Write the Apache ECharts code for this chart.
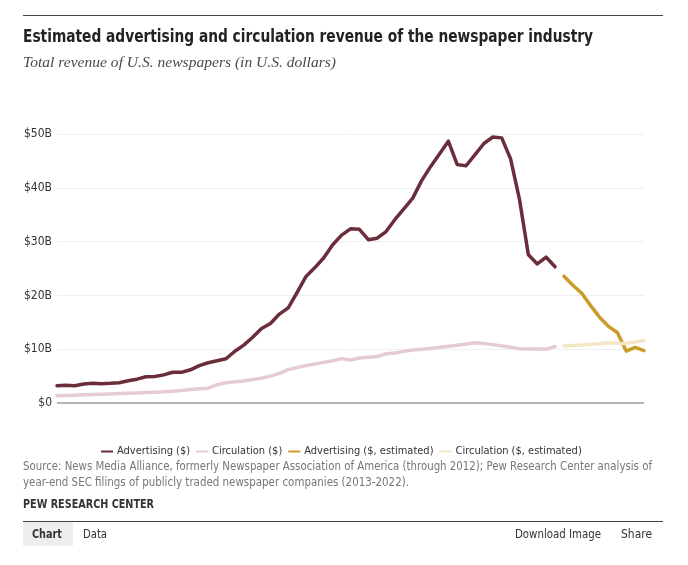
<!DOCTYPE html>
<html>
<head>
<meta charset="utf-8">
<script src="https://cdn.jsdelivr.net/npm/echarts@6/dist/echarts.min.js"></script>
<style>
  html, body { margin: 0; padding: 0; background: #fff; }
  body { width: 688px; height: 565px; position: relative; overflow: hidden; font-family: "DejaVu Sans Condensed", "Liberation Sans", Roboto, sans-serif; }
  #chart { position: absolute; left: 0; top: 0; width: 688px; height: 565px; }
  .abs { position: absolute; white-space: nowrap; transform-origin: 0 50%; }
  #topline { left: 23px; top: 15px; width: 640px; height: 1px; background: #444; }
  #title { left: 23px; top: 25px; font-size: 18px; font-weight: bold; color: #222; }
  #subtitle { left: 23px; top: 54px; font-family: "Liberation Serif", "DejaVu Serif", serif; font-style: italic; font-size: 15px; color: #4a4a4a; }
  #src1 { left: 23px; top: 458px; font-size: 12px; line-height: 16px; color: #777; }
  #src2 { left: 23px; top: 474px; font-size: 12px; line-height: 16px; color: #777; }
  #pew { left: 23px; top: 497px; font-size: 12px; font-weight: bold; color: #333; }
  #botline { left: 23px; top: 521px; width: 640px; height: 1px; background: #444; }
  #tabchart { left: 23px; top: 522px; width: 50px; height: 24px; background: #eeeeee; }
  #tabchartt { left: 32px; top: 522px; font-size: 12px; font-weight: bold; color: #333; line-height: 24px; }
  #tabdata { left: 83px; top: 522px; font-size: 12px; line-height: 24px; color: #333; }
  #tabdl { left: 515px; top: 522px; font-size: 12px; line-height: 24px; color: #333; }
  #tabshare { left: 621px; top: 522px; font-size: 12px; line-height: 24px; color: #333; }
</style>
</head>
<body>
<div id="chart"></div>
<div class="abs" id="topline"></div>
<div class="abs" id="title" data-w="570">Estimated advertising and circulation revenue of the newspaper industry</div>
<div class="abs" id="subtitle" data-w="313">Total revenue of U.S. newspapers (in U.S. dollars)</div>
<div class="abs" id="src1" data-w="629">Source: News Media Alliance, formerly Newspaper Association of America (through 2012); Pew Research Center analysis of</div>
<div class="abs" id="src2" data-w="386">year-end SEC filings of publicly traded newspaper companies (2013-2022).</div>
<div class="abs" id="pew" data-w="131">PEW RESEARCH CENTER</div>
<div class="abs" id="botline"></div>
<div class="abs" id="tabchart"></div>
<div class="abs" id="tabchartt" data-w="30">Chart</div>
<div class="abs" id="tabdata" data-w="24">Data</div>
<div class="abs" id="tabdl" data-w="86">Download Image</div>
<div class="abs" id="tabshare" data-w="31">Share</div>
<script>
// Years (actual: 1956-2012, estimated: 2013-2022)
var actualYears = [1956,1957,1958,1959,1960,1961,1962,1963,1964,1965,1966,1967,1968,1969,1970,
  1971,1972,1973,1974,1975,1976,1977,1978,1979,1980,1981,1982,1983,1984,1985,1986,1987,1988,1989,1990,
  1991,1992,1993,1994,1995,1996,1997,1998,1999,2000,2001,2002,2003,2004,2005,2006,2007,2008,2009,2010,2011,2012];
var estimatedYears = [2013,2014,2015,2016,2017,2018,2019,2020,2021,2022];

// Values in billions of U.S. dollars
var advertising = [3.22,3.28,3.19,3.53,3.68,3.60,3.66,3.78,4.12,4.43,4.87,4.91,5.23,5.71,5.70,
  6.17,6.94,7.48,7.84,8.23,9.62,10.75,12.21,13.86,14.79,16.53,17.69,20.58,23.52,25.17,26.99,29.41,31.20,32.37,32.28,
  30.35,30.64,31.87,34.11,36.09,38.08,41.33,43.93,46.29,48.67,44.31,44.10,46.16,48.24,49.44,49.28,45.38,37.85,27.56,25.84,27.10,25.32];
var circulation = [1.35,1.40,1.46,1.52,1.57,1.62,1.68,1.75,1.82,1.88,1.95,2.02,2.08,2.18,2.33,
  2.52,2.67,2.75,3.40,3.75,3.95,4.10,4.35,4.60,5.00,5.50,6.20,6.60,6.95,7.25,7.55,7.85,8.25,8.00,8.35,
  8.50,8.65,9.15,9.30,9.60,9.85,10.00,10.15,10.35,10.55,10.75,10.95,11.20,11.05,10.85,10.60,10.35,10.10,10.05,10.05,10.00,10.50];
var advertisingEst = [23.57,21.90,20.40,18.10,15.95,14.25,13.10,9.65,10.35,9.75];
var circulationEst = [10.60,10.70,10.80,10.90,11.00,11.20,11.10,11.05,11.35,11.60];

var yTicks = [0,10,20,30,40,50];
var yTickLabels = ['$0','$10B','$20B','$30B','$40B','$50B'];

// Fit HTML texts horizontally to the reference widths
Array.prototype.forEach.call(document.querySelectorAll('[data-w]'), function (el) {
  var w = el.getBoundingClientRect().width;
  var target = parseFloat(el.getAttribute('data-w'));
  if (w > 0) el.style.transform = 'scaleX(' + (target / w) + ')';
});

function pairs(xs, ys) { return xs.map(function (x, i) { return [x, ys[i]]; }); }

var chart = echarts.init(document.getElementById('chart'), null, { renderer: 'canvas' });
var lw = 3.5;
var uiFont = '"DejaVu Sans Condensed", "Liberation Sans", sans-serif';
function lineSeries(name, xs, ys, color) {
  return {
    name: name, type: 'line', data: pairs(xs, ys), showSymbol: false, symbol: 'none',
    lineStyle: { color: color, width: lw, cap: 'round', join: 'round' },
    itemStyle: { color: color }, emphasis: { disabled: true }, animation: false
  };
}
chart.setOption({
  animation: false,
  grid: { left: 57, right: 44, top: 134, bottom: 162 },
  legend: {
    left: 96, top: 441, itemWidth: 12, itemHeight: 2, itemGap: 6, icon: 'rect',
    textStyle: { fontFamily: uiFont, fontSize: 11, color: '#333', padding: [0, 0, 0, -1] },
    data: ['Advertising ($)', 'Circulation ($)', 'Advertising ($, estimated)', 'Circulation ($, estimated)'],
    selectedMode: false
  },
  xAxis: {
    type: 'value', min: 1956, max: 2022, show: true,
    axisLine: { show: false }, axisTick: { show: false }, axisLabel: { show: false }, splitLine: { show: false }
  },
  yAxis: {
    type: 'value', min: 0, max: 50, interval: 10,
    axisLine: { show: false }, axisTick: { show: false },
    axisLabel: {
      margin: 5, fontSize: 12, color: '#333', fontFamily: uiFont,
      formatter: function (v) { var i = yTicks.indexOf(v); return i >= 0 ? yTickLabels[i] : ''; }
    },
    splitLine: { lineStyle: { color: '#f0f0f0', width: 1 } }
  },
  series: [
    lineSeries('Advertising ($)', actualYears, advertising, '#6b2d3a'),
    lineSeries('Circulation ($)', actualYears, circulation, '#e6ccd2'),
    lineSeries('Advertising ($, estimated)', estimatedYears, advertisingEst, '#cc9c2a'),
    lineSeries('Circulation ($, estimated)', estimatedYears, circulationEst, '#f4e6c5'),
    {
      type: 'line', silent: true, data: [], markLine: {
        silent: true, symbol: 'none', label: { show: false },
        lineStyle: { color: '#b5b5b5', width: 2, type: 'solid' },
        data: [{ yAxis: 0 }]
      }
    }
  ]
});
</script>
</body>
</html>
